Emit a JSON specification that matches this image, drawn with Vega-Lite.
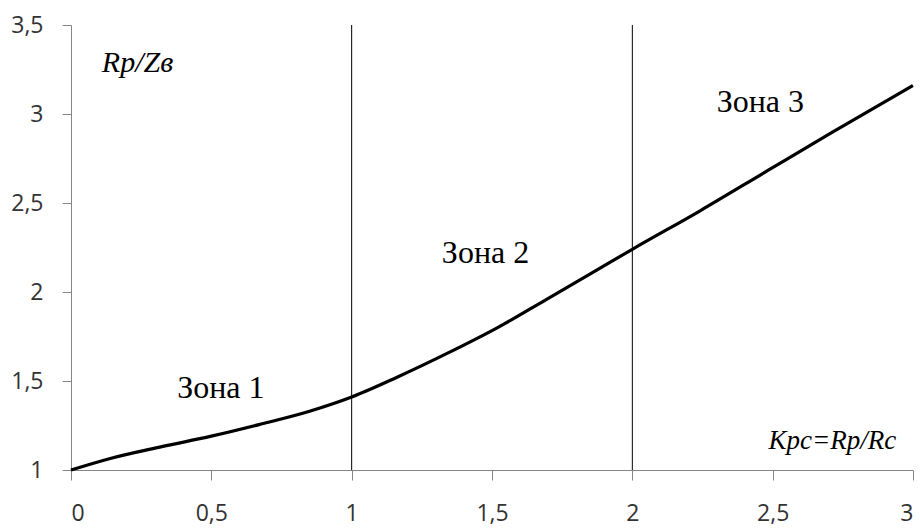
{
  "$schema": "https://vega.github.io/schema/vega-lite/v6.json",
  "width": 842,
  "height": 445,
  "autosize": {"type": "none"},
  "padding": {"left": 71, "top": 25, "right": 7, "bottom": 61},
  "background": "white",
  "config": {"view": {"stroke": null}},
  "datasets": {
    "curve": [
      {"x": 0, "y": 1.0},
      {"x": 0.14, "y": 1.065},
      {"x": 0.32, "y": 1.13},
      {"x": 0.5, "y": 1.19},
      {"x": 0.67, "y": 1.255},
      {"x": 0.85, "y": 1.33},
      {"x": 1.0, "y": 1.41},
      {"x": 1.16, "y": 1.52},
      {"x": 1.34, "y": 1.655},
      {"x": 1.52, "y": 1.8},
      {"x": 1.69, "y": 1.955},
      {"x": 1.87, "y": 2.12},
      {"x": 2.0, "y": 2.24},
      {"x": 2.24, "y": 2.455},
      {"x": 2.48, "y": 2.68},
      {"x": 2.71, "y": 2.895},
      {"x": 3.0, "y": 3.16}
    ],
    "zones": [
      {"x": 1, "y0": 1, "y1": 3.5},
      {"x": 2, "y0": 1, "y1": 3.5}
    ],
    "labels": [
      {"x": 0.534, "y": 1.404, "t": "Зона 1"},
      {"x": 1.477, "y": 2.163, "t": "Зона 2"},
      {"x": 2.456, "y": 3.011, "t": "Зона 3"}
    ],
    "ylab": [{"x": 0.11, "y": 3.236, "t": "Rp/Zв"}],
    "xlab": [{"x": 2.94, "y": 1.118, "t": "Kpc=Rp/Rc"}]
  },
  "layer": [
    {
      "data": {"name": "zones"},
      "mark": {"type": "rule", "color": "#000000", "strokeWidth": 1},
      "encoding": {
        "x": {
          "field": "x", "type": "quantitative",
          "scale": {"domain": [0, 3], "nice": false, "zero": false},
          "axis": {
            "values": [0, 0.5, 1, 1.5, 2, 2.5, 3],
            "format": "~g",
            "labelExpr": "replace(datum.label, '.', ',')",
            "title": null, "grid": false,
            "domainColor": "#868686", "tickColor": "#868686",
            "tickSize": 10, "labelPadding": 22,
            "labelFont": "Open Sans", "labelFontSize": 23, "labelColor": "#333333"
          }
        },
        "y": {
          "field": "y0", "type": "quantitative",
          "scale": {"domain": [1, 3.5], "nice": false, "zero": false},
          "axis": {
            "values": [1, 1.5, 2, 2.5, 3, 3.5],
            "format": "~g",
            "labelExpr": "replace(datum.label, '.', ',')",
            "title": null, "grid": false,
            "domainColor": "#868686", "tickColor": "#868686",
            "tickSize": 9, "labelPadding": 19,
            "labelFont": "Open Sans", "labelFontSize": 23, "labelColor": "#333333"
          }
        },
        "y2": {"field": "y1"}
      }
    },
    {
      "data": {"name": "curve"},
      "mark": {"type": "line", "color": "#000000", "strokeWidth": 3.2, "interpolate": "monotone"},
      "encoding": {
        "x": {"field": "x", "type": "quantitative"},
        "y": {"field": "y", "type": "quantitative"}
      }
    },
    {
      "data": {"name": "labels"},
      "mark": {"type": "text", "font": "Liberation Serif", "fontSize": 32, "align": "center", "baseline": "alphabetic", "color": "#000000"},
      "encoding": {
        "x": {"field": "x", "type": "quantitative"},
        "y": {"field": "y", "type": "quantitative"},
        "text": {"field": "t"}
      }
    },
    {
      "data": {"name": "ylab"},
      "mark": {"type": "text", "font": "Liberation Serif", "fontStyle": "italic", "fontSize": 30, "align": "left", "baseline": "alphabetic", "color": "#000000"},
      "encoding": {
        "x": {"field": "x", "type": "quantitative"},
        "y": {"field": "y", "type": "quantitative"},
        "text": {"field": "t"}
      }
    },
    {
      "data": {"name": "xlab"},
      "mark": {"type": "text", "font": "Liberation Serif", "fontStyle": "italic", "fontSize": 27, "align": "right", "baseline": "alphabetic", "color": "#000000"},
      "encoding": {
        "x": {"field": "x", "type": "quantitative"},
        "y": {"field": "y", "type": "quantitative"},
        "text": {"field": "t"}
      }
    }
  ]
}
